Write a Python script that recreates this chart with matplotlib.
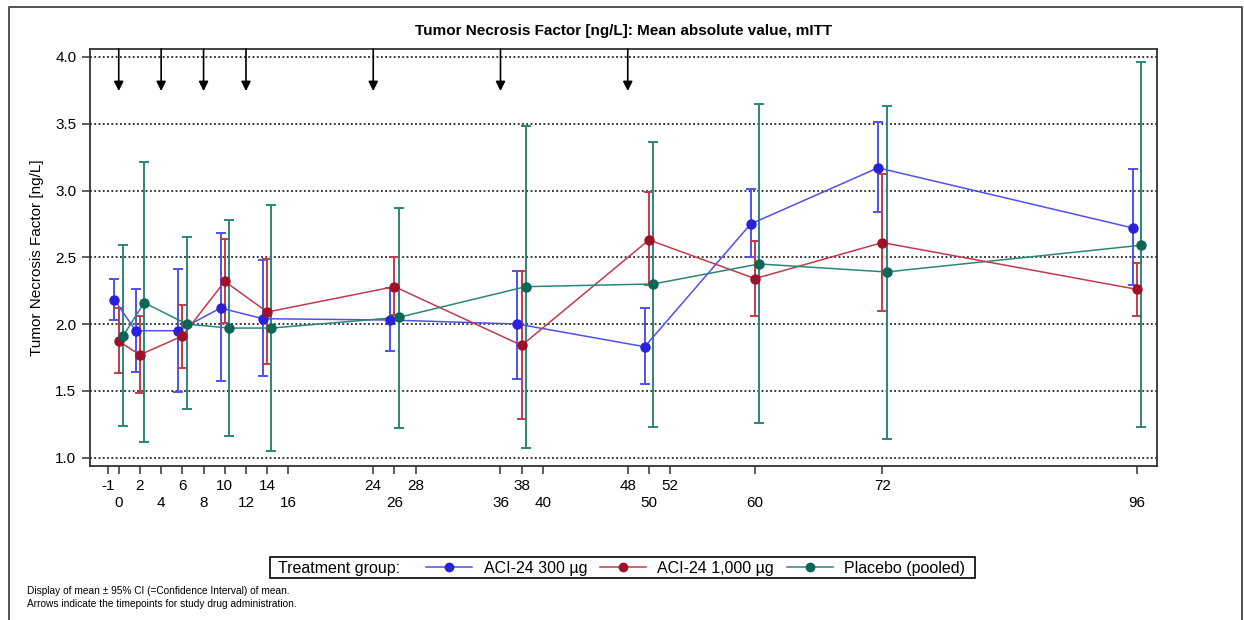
import matplotlib.pyplot as plt
import numpy as np
from matplotlib.lines import Line2D
from matplotlib.patches import Rectangle

plt.rcParams['font.family'] = ['Liberation Sans', 'DejaVu Sans']

# visit weeks (nominal) and tick layout
weeks = np.array([0, 2, 6, 10, 14, 26, 38, 50, 60, 72, 96])
upper_ticks = [-1, 2, 6, 10, 14, 24, 28, 38, 48, 52, 72]
lower_ticks = [0, 4, 8, 12, 16, 26, 36, 40, 50, 60, 96]
dose_weeks = [0, 4, 8, 12, 24, 36, 48]

# ACI-24 300 µg
low_mean = [2.18, 1.95, 1.95, 2.12, 2.04, 2.03, 2.00, 1.83, 2.75, 3.17, 2.72]
low_hi = [2.34, 2.26, 2.41, 2.68, 2.48, 2.27, 2.40, 2.12, 3.01, 3.51, 3.16]
low_lo = [2.03, 1.64, 1.49, 1.57, 1.61, 1.80, 1.59, 1.55, 2.50, 2.84, 2.29]

# ACI-24 1,000 µg
high_mean = [1.87, 1.77, 1.91, 2.32, 2.09, 2.28, 1.84, 2.63, 2.34, 2.61, 2.26]
high_hi = [2.12, 2.06, 2.14, 2.64, 2.49, 2.50, 2.40, 2.99, 2.62, 3.12, 2.46]
high_lo = [1.63, 1.48, 1.67, 2.01, 1.70, 2.07, 1.29, 2.29, 2.06, 2.10, 2.06]

# Placebo (pooled)
pbo_mean = [1.91, 2.16, 2.00, 1.97, 1.97, 2.05, 2.28, 2.30, 2.45, 2.39, 2.59]
pbo_hi = [2.59, 3.21, 2.65, 2.78, 2.89, 2.87, 3.48, 3.36, 3.65, 3.63, 3.96]
pbo_lo = [1.24, 1.12, 1.36, 1.16, 1.05, 1.22, 1.07, 1.23, 1.26, 1.14, 1.23]

groups = [
    ("ACI-24 300 µg", low_mean, low_lo, low_hi, -0.4, "#5050ee", "#2a22d8"),
    ("ACI-24 1,000 µg", high_mean, high_lo, high_hi, 0.0, "#c43a4c", "#a0102a"),
    ("Placebo (pooled)", pbo_mean, pbo_lo, pbo_hi, 0.4, "#2a8777", "#0a6656"),
]

fig = plt.figure(figsize=(12.44, 6.2), dpi=100)
ax = fig.add_axes([0.072, 0.248, 0.858, 0.673])

for y in np.arange(1.0, 4.01, 0.5):
    ax.axhline(y, color="black", lw=1.1, ls=(0, (1.2, 1.6)), zorder=0)

handles = []
for label, mean, lo, hi, off, lc, mc in groups:
    x = weeks + off
    mean = np.array(mean)
    err = [mean - np.array(lo), np.array(hi) - mean]
    ax.errorbar(x, mean, yerr=err, fmt="none", ecolor=lc, elinewidth=1.4,
                capsize=3.8, capthick=1.4, zorder=2)
    ax.plot(x, mean, color=lc, lw=1.1, zorder=3)
    ax.plot(x, mean, "o", color=mc, ms=6.5, zorder=4)
    handles.append(Line2D([], [], color=lc, lw=1.1, marker="o",
                          markerfacecolor=mc, markeredgecolor=mc, ms=6))

for w in dose_weeks:
    ax.annotate("", xy=(w, 3.745), xytext=(w, 4.06),
                arrowprops=dict(arrowstyle="-|>", color="black", lw=1.2,
                                mutation_scale=14, shrinkA=0, shrinkB=0))

ax.set_xlim(-2.75, 97.9)
ax.set_ylim(0.935, 4.06)
ax.set_yticks(np.arange(1.0, 4.01, 0.5))
ax.set_yticklabels([f"{v:.1f}" for v in np.arange(1.0, 4.01, 0.5)])
ticks = upper_ticks + lower_ticks
labels = [str(t) for t in upper_ticks] + ["\n" + str(t) for t in lower_ticks]
ax.set_xticks(ticks)
ax.set_xticklabels(labels, linespacing=1.3)
ax.tick_params(axis="both", direction="out", length=6, width=1.1,
               labelsize=11, color="#333333")
ax.tick_params(axis="x", pad=3)
for s in ax.spines.values():
    s.set_linewidth(1.3)
    s.set_color("#333333")

ax.set_ylabel("Tumor Necrosis Factor [ng/L]", fontsize=11, labelpad=8)
ax.set_title("Tumor Necrosis Factor [ng/L]: Mean absolute value, mITT",
             fontsize=11, fontweight="bold", pad=10)

# legend with leading caption inside a drawn box
fig.patches.append(Rectangle((270 / 1244, 1 - 578 / 620), 705 / 1244, 21 / 620,
                             transform=fig.transFigure, fill=False,
                             edgecolor="black", lw=1.2))
fig.text(278 / 1244, 1 - 568 / 620, "Treatment group:", fontsize=11.5,
         va="center", ha="left")
fig.legend(handles, [g[0] for g in groups], loc="center left",
           bbox_to_anchor=(426 / 1244, 1 - 568 / 620), ncol=3, frameon=False,
           fontsize=11.5, handlelength=2.9, handletextpad=0.7,
           columnspacing=0.8, borderpad=0, borderaxespad=0)

fig.text(27 / 1244, 1 - 591 / 620,
         "Display of mean ± 95% CI (=Confidence Interval) of mean.",
         fontsize=7.3, va="center")
fig.text(27 / 1244, 1 - 604 / 620,
         "Arrows indicate the timepoints for study drug administration.",
         fontsize=7.3, va="center")

# outer frame around the whole output
frame = Line2D([9 / 1244, 9 / 1244, 1242 / 1244, 1242 / 1244],
               [-0.05, 1 - 7 / 620, 1 - 7 / 620, -0.05],
               transform=fig.transFigure, color="#444444", lw=1.3)
fig.add_artist(frame)

fig.savefig("out.png", dpi=100)
